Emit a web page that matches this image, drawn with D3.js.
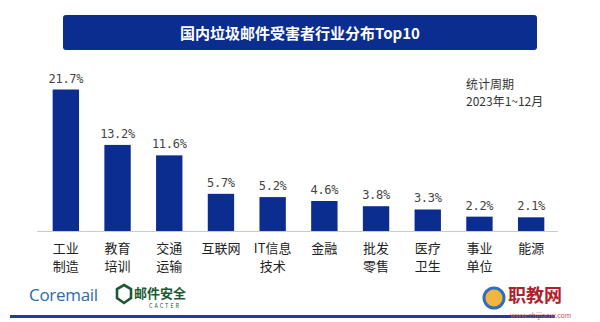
<!DOCTYPE html>
<html><head><meta charset="utf-8">
<script src="https://cdn.jsdelivr.net/npm/d3@7"></script>
<style>
html,body{margin:0;padding:0;background:#fff;}
svg{display:block;font-family:"Noto Sans CJK SC","Noto Sans",sans-serif;}
</style></head>
<body><svg id="c" width="600" height="322"></svg>
<script>
const title = "国内垃圾邮件受害者行业分布Top10";
const categories = [["工业","制造"],["教育","培训"],["交通","运输"],["互联网"],["IT信息","技术"],["金融"],["批发","零售"],["医疗","卫生"],["事业","单位"],["能源"]];
const values = [21.7, 13.2, 11.6, 5.7, 5.2, 4.6, 3.8, 3.3, 2.2, 2.1];
const noteLines = ["统计周期", "2023年1~12月"];

const svg = d3.select("#c");
const blue = "#0b2d8f";

// title banner
svg.append("rect").attr("x",63).attr("y",15).attr("width",474).attr("height",35).attr("rx",3).attr("fill",blue);
svg.append("text").attr("x",300).attr("y",38.5).attr("text-anchor","middle").attr("fill","#fff")
  .attr("font-size",15).attr("font-weight","bold").text(title);

const x = d3.scaleBand().domain(d3.range(values.length)).range([40,557]).paddingInner(0.49).paddingOuter(0.245);
const y = d3.scaleLinear().domain([0,21.7]).range([231,89.5]);

// baseline
svg.append("line").attr("x1",37).attr("x2",558).attr("y1",231.5).attr("y2",231.5).attr("stroke","#c8cbd2").attr("stroke-width",1);

svg.selectAll("rect.bar").data(values).join("rect").attr("class","bar")
  .attr("x",(d,i)=>x(i)).attr("width",x.bandwidth())
  .attr("y",d=>y(d)).attr("height",d=>y(0)-y(d)).attr("fill",blue);

svg.selectAll("text.val").data(values).join("text").attr("class","val")
  .attr("x",(d,i)=>x(i)+x.bandwidth()/2).attr("y",d=>y(d)-7)
  .attr("text-anchor","middle").attr("font-size",12).attr("fill","#444")
  .attr("font-family","'DejaVu Sans Mono',monospace").attr("letter-spacing",-0.3)
  .text(d=>d.toFixed(1)+"%");

const cat = svg.selectAll("g.cat").data(categories).join("g").attr("class","cat")
  .attr("transform",(d,i)=>`translate(${x(i)+x.bandwidth()/2},0)`);
cat.selectAll("text").data(d=>d).join("text")
  .attr("x",0).attr("y",(d,j)=>252.5+j*18).attr("text-anchor","middle")
  .attr("font-size",13).attr("fill","#222").text(d=>d);

// note
svg.selectAll("text.note").data(noteLines).join("text").attr("class","note")
  .attr("x",466).attr("y",(d,i)=>89+i*17).attr("font-size",12).attr("fill","#333").text(d=>d);

// footer logos
svg.append("text").attr("x",29).attr("y",301).attr("font-size",17).attr("fill","#2f6aa8")
  .attr("font-family","'Open Sans',sans-serif").attr("letter-spacing",-0.3).text("Coremail");
svg.append("path").attr("d","M124,285 L131,289 L131,298 L124,303 L117,298 L117,289 Z")
  .attr("fill","none").attr("stroke","#1d5a33").attr("stroke-width",2.6);
svg.append("text").attr("x",134).attr("y",298).attr("font-size",13).attr("font-weight","bold").attr("fill","#1d5a33").text("邮件安全");
svg.append("text").attr("x",165).attr("y",308).attr("text-anchor","middle").attr("font-size",5.5).attr("letter-spacing",2).attr("fill","#1d5a33").text("CACTER");
svg.append("rect").attr("x",10).attr("y",315).attr("width",545).attr("height",3).attr("fill","#1c3f9e");

// watermark
svg.append("circle").attr("cx",494).attr("cy",298).attr("r",10).attr("fill","#f2b640").attr("stroke","#2d6fc0").attr("stroke-width",3);
svg.append("text").attr("x",508).attr("y",302).attr("font-size",18).attr("font-weight","bold").attr("fill","#b0202a").text("职教网");
svg.append("text").attr("x",510).attr("y",318).attr("font-size",7).attr("fill","#c0505a").text("www.zhijiaow.com");
</script></body></html>
